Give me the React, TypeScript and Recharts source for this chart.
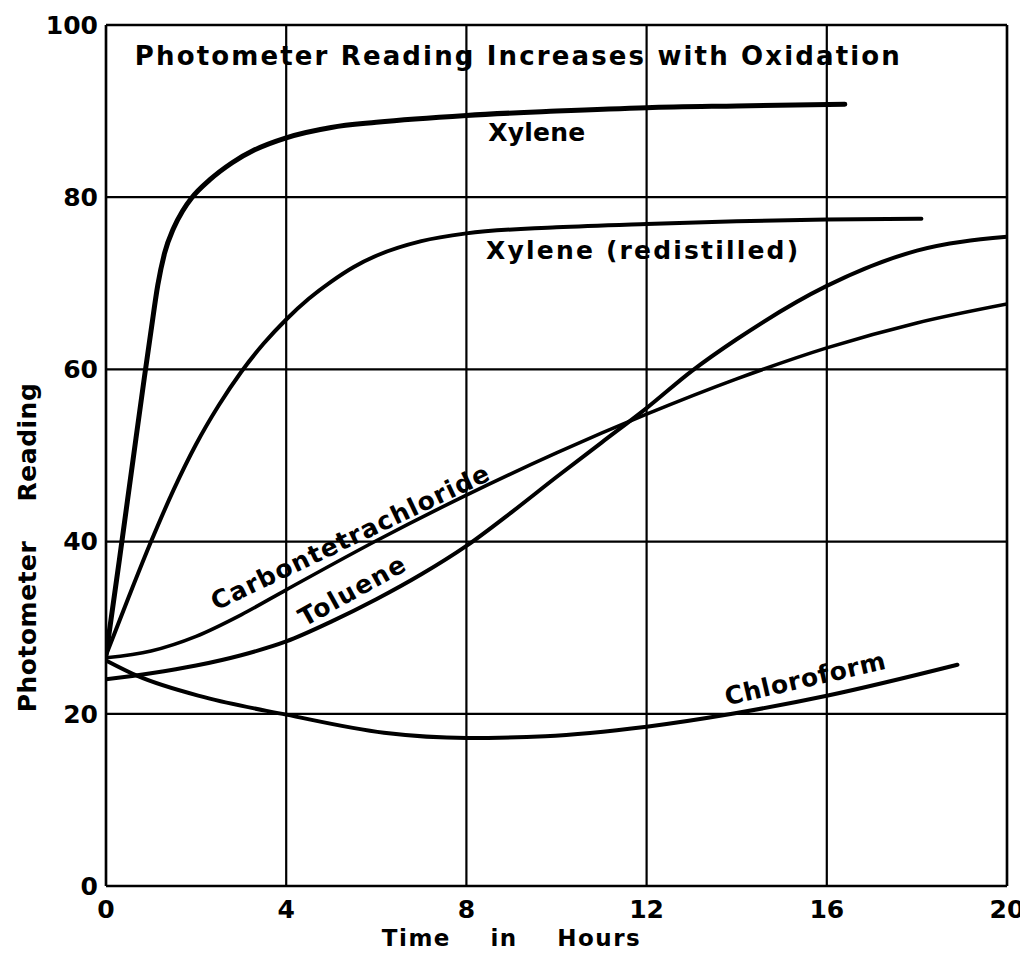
import React from 'react';
import {
  LineChart,
  Line,
  XAxis,
  YAxis,
  CartesianGrid,
  ReferenceLine,
  ReferenceDot,
} from 'recharts';

// ---- data (hours since start, photometer reading) ----
const xyleneHours = [0, 0.3, 0.6, 0.85, 1.0, 1.15, 1.3, 1.5, 1.7, 1.9, 2.3, 2.8, 3.3, 4, 5, 6, 8, 10, 12, 14, 16.4];
const xyleneValues = [26.8, 38, 49.5, 59, 64.5, 69.8, 73.5, 76.4, 78.4, 79.9, 82, 84, 85.5, 86.9, 88.1, 88.7, 89.5, 90, 90.4, 90.6, 90.8];

const redistilledHours = [0, 0.5, 1, 1.5, 2, 2.5, 3, 3.5, 4, 4.5, 5, 5.5, 6, 7, 8, 10, 12, 14, 16, 18.1];
const redistilledValues = [26.8, 33.5, 40, 46, 51.3, 55.8, 59.7, 63, 65.8, 68.2, 70.2, 71.9, 73.2, 74.9, 75.8, 76.5, 76.9, 77.2, 77.4, 77.5];

const carbonHours = [0, 1, 2, 3, 4, 6, 8, 10, 12, 14, 16, 18, 20];
const carbonValues = [26.5, 27.3, 29, 31.5, 34.4, 40.1, 45.4, 50.3, 54.8, 58.9, 62.5, 65.4, 67.6];

const tolueneHours = [0, 1, 2, 3, 4, 5, 6, 7, 8, 9, 10, 11, 12, 13, 14, 16, 18, 20];
const tolueneValues = [24, 24.7, 25.6, 26.8, 28.4, 30.7, 33.3, 36.2, 39.5, 43.4, 47.5, 51.5, 55.5, 59.8, 63.5, 69.7, 73.8, 75.4];

const chloroformHours = [0, 0.7, 2.2, 4, 6.17, 8, 9.75, 12, 13.9, 16, 18.9];
const chloroformValues = [26.2, 24.4, 21.9, 19.9, 17.8, 17.2, 17.4, 18.5, 20, 22.1, 25.7];

const hourTicks = [0, 4, 8, 12, 16, 20];
const readingTicks = [0, 20, 40, 60, 80, 100];

// curve names, anchored at the midpoint of their baseline (hours, reading)
const curveNames = ['Xylene', 'Xylene (redistilled)', 'Carbontetrachloride', 'Toluene', 'Chloroform'];
const curveNameHours = [9.56, 11.9, 5.5, 5.55, 15.56];
const curveNameValues = [86.5, 72.8, 39.6, 33.4, 23.1];
const curveNameAngles = [0, 0, -25.5, -29, -13];
const curveNameLengths = [97, 312, 305, 118, 164];

const chartTitle = 'Photometer Reading Increases with Oxidation';
const xTitle = 'Time in Hours';
const yTitle = 'Photometer Reading';

const toPoints = (hours: number[], values: number[]) =>
  hours.map((h, i) => ({ hours: h, reading: values[i] }));

const xylene = toPoints(xyleneHours, xyleneValues);
const redistilled = toPoints(redistilledHours, redistilledValues);
const carbon = toPoints(carbonHours, carbonValues);
const toluene = toPoints(tolueneHours, tolueneValues);
const chloroform = toPoints(chloroformHours, chloroformValues);

const FONT = '"DejaVu Sans", "Liberation Sans", sans-serif';
const INK = '#000';

const lettering = (text: string, length: number, angle = 0, size = 25) => (props: any) => {
  const vb = props.viewBox || { x: 0, y: 0, width: 0, height: 0 };
  const x = vb.x + (vb.width || 0) / 2;
  const y = vb.y + (vb.height || 0) / 2;
  return (
    <text
      x={x}
      y={y}
      transform={angle ? `rotate(${angle} ${x} ${y})` : undefined}
      textAnchor="middle"
      textLength={length}
      lengthAdjust="spacing"
      fontFamily={FONT}
      fontWeight="bold"
      fontSize={size}
      fill={INK}
    >
      {text}
    </text>
  );
};

const xAxisTitle = (props: any) => {
  const vb = props.viewBox;
  const x = vb.x + vb.width / 2 - 45;
  const y = vb.y + 60;
  return (
    <text x={x} y={y} textAnchor="middle" wordSpacing={30} letterSpacing={1.5}
      fontFamily={FONT} fontWeight="bold" fontSize={23} fill={INK}>
      {xTitle}
    </text>
  );
};

const yAxisTitle = (props: any) => {
  const vb = props.viewBox;
  const x = vb.x + 28;
  const y = vb.y + vb.height / 2 + 92;
  return (
    <text x={x} y={y} transform={`rotate(-90 ${x} ${y})`} textAnchor="middle"
      wordSpacing={30} letterSpacing={0.5}
      fontFamily={FONT} fontWeight="bold" fontSize={25} fill={INK}>
      {yTitle}
    </text>
  );
};

const tickStyle = { fontSize: 25, fontWeight: 'bold', fill: INK, fontFamily: FONT };

export default function App() {
  // the wrapper keeps the page free of scrollbars; the chart may run into the body margin
  return (
    <div style={{ width: 1012, height: 939, overflow: 'visible' }}>
      <LineChart
        width={1020}
        height={945}
        margin={{ top: 17, right: 21, bottom: 25, left: 0 }}
        style={{ background: '#fff' }}
      >
        <CartesianGrid stroke={INK} strokeWidth={2.2} strokeOpacity={1} />
        <XAxis
          type="number"
          dataKey="hours"
          domain={[0, 20]}
          ticks={hourTicks}
          allowDataOverflow
          height={42}
          tickLine={false}
          tickMargin={8}
          axisLine={{ stroke: INK, strokeWidth: 2.5 }}
          tick={tickStyle}
          label={{ content: xAxisTitle }}
        />
        <YAxis
          type="number"
          dataKey="reading"
          domain={[0, 100]}
          ticks={readingTicks}
          allowDataOverflow
          width={98}
          tickLine={false}
          tickMargin={2}
          axisLine={{ stroke: INK, strokeWidth: 2.5 }}
          tick={tickStyle}
          label={{ content: yAxisTitle }}
        />
        <ReferenceLine y={100} stroke={INK} strokeWidth={2.5} />
        <ReferenceLine x={20} stroke={INK} strokeWidth={2.5} />

        <Line data={xylene} dataKey="reading" type="monotone" stroke={INK} strokeWidth={5}
          strokeLinecap="round" dot={false} activeDot={false} isAnimationActive={false} />
        <Line data={redistilled} dataKey="reading" type="monotone" stroke={INK} strokeWidth={4}
          strokeLinecap="round" dot={false} activeDot={false} isAnimationActive={false} />
        <Line data={carbon} dataKey="reading" type="monotone" stroke={INK} strokeWidth={3.6}
          strokeLinecap="round" dot={false} activeDot={false} isAnimationActive={false} />
        <Line data={toluene} dataKey="reading" type="monotone" stroke={INK} strokeWidth={4}
          strokeLinecap="round" dot={false} activeDot={false} isAnimationActive={false} />
        <Line data={chloroform} dataKey="reading" type="monotone" stroke={INK} strokeWidth={4}
          strokeLinecap="round" dot={false} activeDot={false} isAnimationActive={false} />

        <ReferenceDot x={9.13} y={95.4} r={0} fill="none" stroke="none"
          label={{ content: lettering(chartTitle, 765, 0, 26) }} />
        {curveNames.map((name, i) => (
          <ReferenceDot
            key={name}
            x={curveNameHours[i]}
            y={curveNameValues[i]}
            r={0}
            fill="none"
            stroke="none"
            label={{ content: lettering(name, curveNameLengths[i], curveNameAngles[i]) }}
          />
        ))}
      </LineChart>
    </div>
  );
}
